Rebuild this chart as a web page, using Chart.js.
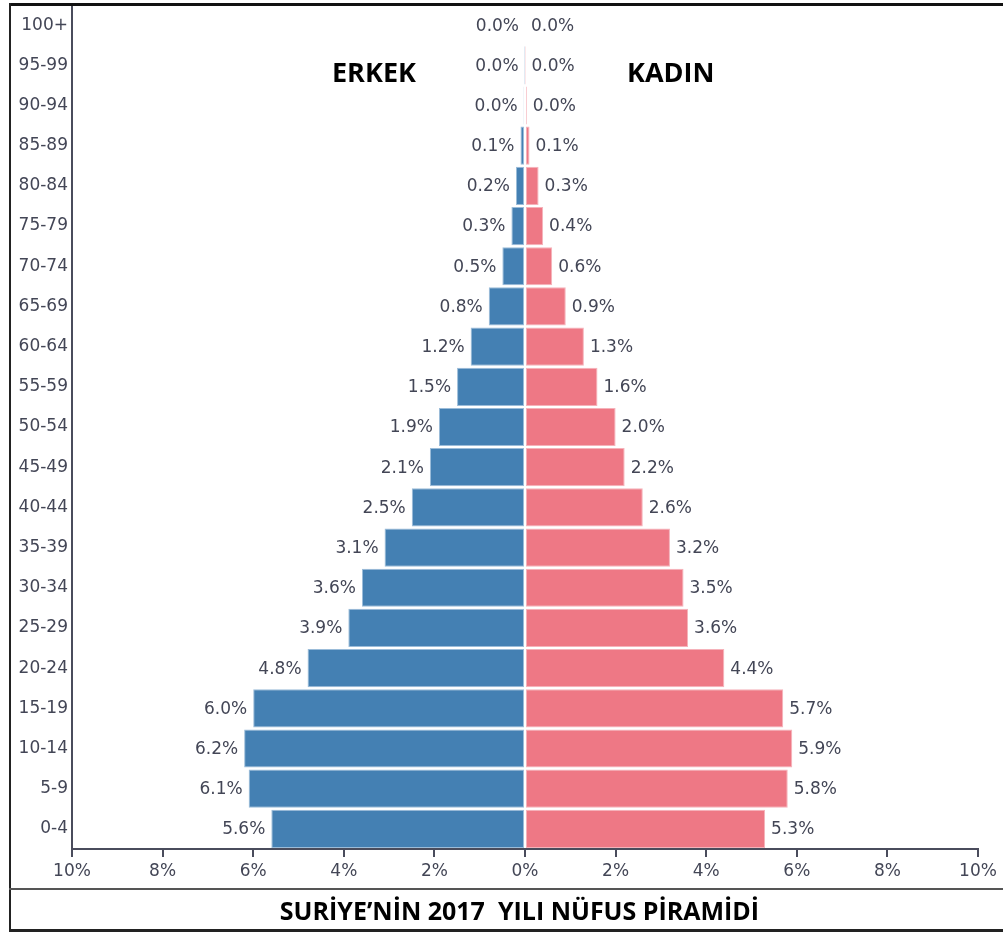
<!DOCTYPE html>
<html>
<head>
<meta charset="utf-8">
<script src="https://cdn.jsdelivr.net/npm/chart.js@4/dist/chart.umd.min.js"></script>
<style>
  html, body { margin: 0; padding: 0; background: #fff; }
  #wrap { position: relative; width: 1003px; height: 934px; overflow: hidden; }
  canvas { position: absolute; left: 0; top: 0; }
  .frame-top { position: absolute; left: 9px; top: 3px; width: 994px; height: 3px; background: #111; }
  .frame-left { position: absolute; left: 9px; top: 3px; width: 2px; height: 929px; background: #222; }
  .frame-bottom { position: absolute; left: 9px; top: 929px; width: 994px; height: 3px; background: #222; }
  .sep { position: absolute; left: 9px; top: 888px; width: 994px; height: 2px; background: #555; }
  .lbl { position: absolute; font-family: "Open Sans", sans-serif; font-weight: 700; color: #000; white-space: nowrap; line-height: 1; }
  #erkek { left: 332px; top: 58px; font-size: 27px; }
  #kadin { left: 627px; top: 58px; font-size: 27px; }
  #title { left: 0; width: 1003px; text-align: center; top: 898px; font-size: 25px; padding-left: 36px; box-sizing: border-box; }
</style>
</head>
<body>
<div id="wrap">
  <canvas id="c" width="1003" height="934"></canvas>
  <div class="frame-top"></div>
  <div class="frame-left"></div>
  <div class="sep"></div>
  <div class="frame-bottom"></div>
  <div class="lbl" id="erkek">ERKEK</div>
  <div class="lbl" id="kadin">KADIN</div>
  <div class="lbl" id="title">SURİYE’NİN 2017&nbsp; YILI NÜFUS PİRAMİDİ</div>
</div>
<script>
const ageGroups = ['100+','95-99','90-94','85-89','80-84','75-79','70-74','65-69','60-64','55-59','50-54','45-49','40-44','35-39','30-34','25-29','20-24','15-19','10-14','5-9','0-4'];
const maleValues = [0.0, 0.01, 0.03, 0.1, 0.2, 0.3, 0.5, 0.8, 1.2, 1.5, 1.9, 2.1, 2.5, 3.1, 3.6, 3.9, 4.8, 6.0, 6.2, 6.1, 5.6];
const femaleValues = [0.0, 0.01, 0.04, 0.1, 0.3, 0.4, 0.6, 0.9, 1.3, 1.6, 2.0, 2.2, 2.6, 3.2, 3.5, 3.6, 4.4, 5.7, 5.9, 5.8, 5.3];
const xTickValues = [-10, -8, -6, -4, -2, 0, 2, 4, 6, 8, 10];

const textColor = '#434656';
const axisColor = '#4a4c5c';
const labelFont = '17px "DejaVu Sans", sans-serif';

const barLabels = {
  id: 'barLabels',
  afterDatasetsDraw(chart) {
    const ctx = chart.ctx;
    ctx.save();
    ctx.font = labelFont;
    ctx.fillStyle = textColor;
    ctx.textBaseline = 'middle';
    chart.data.datasets.forEach((ds, di) => {
      const meta = chart.getDatasetMeta(di);
      meta.data.forEach((el, i) => {
        const v = Math.abs(ds.data[i]);
        const txt = v.toFixed(1) + '%';
        if (di === 0) {
          ctx.textAlign = 'right';
          ctx.fillText(txt, el.x - 6, el.y + 1);
        } else {
          ctx.textAlign = 'left';
          ctx.fillText(txt, el.x + 6, el.y + 1);
        }
      });
    });
    ctx.restore();
  }
};

new Chart(document.getElementById('c'), {
  type: 'bar',
  data: {
    labels: ageGroups,
    datasets: [
      {
        label: 'ERKEK',
        data: maleValues.map(v => -v),
        backgroundColor: '#4480b3',
        borderColor: '#9bbcd9',
        borderWidth: 1,
        borderSkipped: false,
        barPercentage: 0.95,
        categoryPercentage: 1.0
      },
      {
        label: 'KADIN',
        data: femaleValues,
        backgroundColor: '#ee7885',
        borderColor: '#f5b2ba',
        borderWidth: 1,
        borderSkipped: false,
        barPercentage: 0.95,
        categoryPercentage: 1.0
      }
    ]
  },
  options: {
    indexAxis: 'y',
    responsive: false,
    animation: false,
    devicePixelRatio: 1,
    layout: { padding: { left: 0, right: 25, top: 5, bottom: 45 } },
    plugins: { legend: { display: false }, tooltip: { enabled: false } },
    scales: {
      x: {
        stacked: true,
        min: -10,
        max: 10,
        afterBuildTicks(scale) { scale.ticks = xTickValues.map(v => ({ value: v })); },
        afterFit(scale) { scale.height = 40; scale.paddingLeft = 0; scale.paddingRight = 0; },
        ticks: {
          callback: v => Math.abs(v) + '%',
          color: textColor,
          font: { family: '"DejaVu Sans", sans-serif', size: 17 },
          maxRotation: 0,
          padding: 4
        },
        grid: { drawOnChartArea: false, drawTicks: true, tickLength: 8, color: axisColor, lineWidth: 2 },
        border: { display: true, color: axisColor, width: 2 }
      },
      y: {
        stacked: true,
        afterFit(scale) { scale.width = 72; scale.paddingTop = 0; scale.paddingBottom = 0; },
        ticks: {
          color: textColor,
          font: { family: '"DejaVu Sans", sans-serif', size: 17 },
          padding: 4
        },
        grid: { display: false, drawTicks: false },
        border: { display: true, color: axisColor, width: 2 }
      }
    }
  },
  plugins: [barLabels]
});
</script>
</body>
</html>
